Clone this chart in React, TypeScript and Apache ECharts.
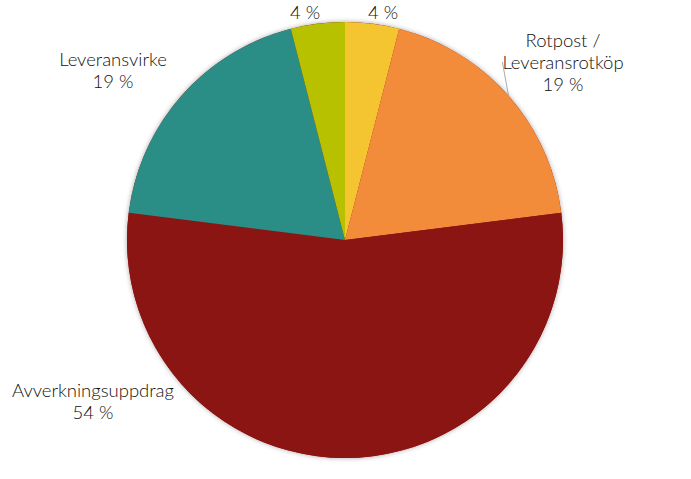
import React, { useEffect, useRef } from "react";
import * as echarts from "echarts";

const names = ["", "Rotpost /\nLeveransrotköp", "Avverkningsuppdrag", "Leveransvirke", ""];
const values = [4, 19, 54, 19, 4];
const colors = ["#F5C431", "#F28C3A", "#8B1512", "#2A8D86", "#B8C100"];
// label anchor (centre of label block) for each slice
const labelAnchors: [number, number][] = [
  [383, 12],
  [563, 62],
  [93, 401],
  [113, 70],
  [305, 12],
];

export default function App() {
  const ref = useRef<HTMLDivElement>(null);
  useEffect(() => {
    if (!ref.current) return;
    const chart = echarts.init(ref.current, undefined, { renderer: "svg" });
    chart.setOption({
      animation: false,
      backgroundColor: "#ffffff",
      series: [
        {
          type: "pie",
          center: [345, 240],
          radius: 218,
          silent: true,
          z: 1,
          label: { show: false },
          labelLine: { show: false },
          itemStyle: {
            color: "#8B1512",
            borderWidth: 0,
            shadowBlur: 5,
            shadowColor: "rgba(0,0,0,0.35)",
          },
          data: [{ value: 1, name: "shadow" }],
        },
        {
          type: "pie",
          z: 2,
          center: [345, 240],
          radius: 218,
          startAngle: 90,
          clockwise: true,
          avoidLabelOverlap: false,
          itemStyle: { borderWidth: 0 },
          label: {
            show: true,
            position: "outside",
            fontFamily: "Lato",
            fontWeight: 300,
            fontSize: 18.5,
            lineHeight: 22,
            color: "#111111",
            align: "center",
            formatter: (p: any) => (p.name ? p.name + "\n" : "") + p.value + " %",
          },
          labelLine: { show: false },
          labelLayout: (p: any) => {
            const a = labelAnchors[p.dataIndex];
            return { x: a[0], y: a[1], align: "center", verticalAlign: "middle" };
          },
          data: values.map((v, i) => ({
            value: v,
            name: names[i],
            itemStyle: { color: colors[i] },
            labelLine:
              i === 1
                ? { show: true, length: 4, length2: 4, lineStyle: { color: "#aaaaaa", width: 1 } }
                : { show: false },
          })),
        },
      ],
    });
    return () => chart.dispose();
  }, []);
  return (
    <div
      ref={ref}
      style={{ position: "fixed", left: 0, top: 0, width: 691, height: 479 }}
    />
  );
}
